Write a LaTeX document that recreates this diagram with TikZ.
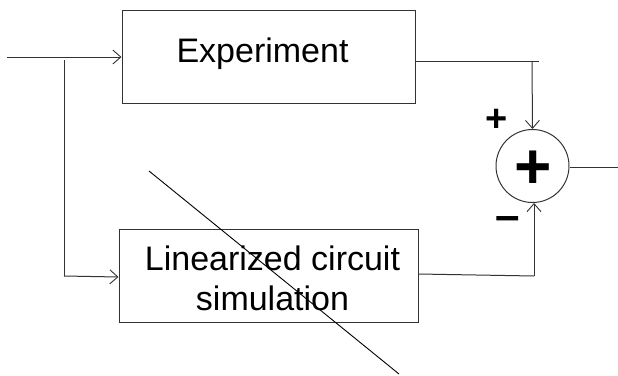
\documentclass[tikz,border=0pt]{standalone}
\usepackage{fontspec}
\setmainfont{Liberation Sans}
\usetikzlibrary{arrows.meta}
\definecolor{wire}{HTML}{333333}
\tikzset{
  block/.style={draw=wire, line width=1pt, inner sep=0pt},
  conn/.style={draw=wire, line width=1pt},
  tip/.style={-{Straight Barb[length=8pt,width=14pt,line width=0.9pt]}},
  lbl/.style={inner sep=0pt, font=\fontsize{34}{40}\selectfont, align=center}
}
\begin{document}
\begin{tikzpicture}[x=1pt, y=-1pt]
  \useasboundingbox (0,0) rectangle (618,375);
  % blocks
  \node[block, minimum width=293pt, minimum height=93pt] (exp) at (268.5,56.5) {};
  \node[lbl, anchor=base] (expt) at (262.5,62) {Experiment};
  \node[block, minimum width=299pt, minimum height=93pt] (sim) at (268.5,275.5) {};
  \node[lbl, anchor=base] (simt1) at (272.5,270) {Linearized circuit};
  \node[lbl, anchor=base] (simt2) at (272.5,310) {simulation};
  % summing junction
  \node[draw=wire, line width=1pt, circle, minimum size=73pt, inner sep=0pt] (sum) at (532.5,166) {};
  \node[inner sep=0pt, font=\bfseries\fontsize{64}{64}\selectfont] (plus) at (533,170) {+};
  \node[inner sep=0pt, font=\bfseries\fontsize{38}{38}\selectfont] (pl) at (497,120) {+};
  \node[inner sep=0pt, font=\bfseries\fontsize{44}{44}\selectfont] (mi) at (508,224) {–};
  % points
  \coordinate (in) at (7,57);
  \coordinate (br) at (64,57);
  \coordinate (c1) at (539,61);
  \coordinate (c1d) at (532,61);
  \coordinate (c2) at (534,276);
  \coordinate (out) at (618,167);
  % connectors
  \draw[conn, tip] (in) -- (exp.west |- in);
  \draw[conn] (br |- 0,60) -- (br |- 0,276) ;
  \draw[conn, tip] (br |- 0,276) -- (sim.west |- 0,277);
  \draw[conn] (exp.east |- c1) -- (c1);
  \draw[conn, tip] (c1d) -- (sum.north);
  \draw[conn] (sim.east |- 0,274) -- (c2);
  \draw[conn, tip] (c2) -- (sum.south -| c2);
  \draw[conn] (sum.east |- out) -- (out);
  % diagonal stroke
  \draw[line width=0.9pt] (149,171) -- (399,374);
\end{tikzpicture}
\end{document}
